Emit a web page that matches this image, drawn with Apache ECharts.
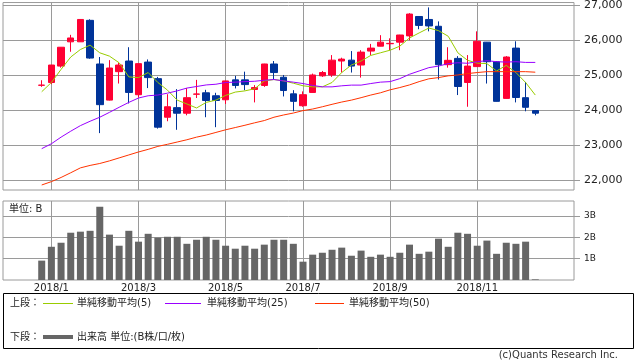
<!DOCTYPE html>
<html><head><meta charset="utf-8">
<script src="https://cdn.jsdelivr.net/npm/echarts@6/dist/echarts.min.js"></script>
<style>html,body{margin:0;padding:0;background:#fff}#c{width:638px;height:362px}</style>
</head><body><div id="c"></div>
<script>
// weekly categories (Monday of each week)
const weeks = ['2017/11/27','2017/12/4','2017/12/11','2017/12/18','2017/12/25',
 '2018/1/1','2018/1/8','2018/1/15','2018/1/22','2018/1/29','2018/2/5','2018/2/12','2018/2/19','2018/2/26',
 '2018/3/5','2018/3/12','2018/3/19','2018/3/26','2018/4/2','2018/4/9','2018/4/16','2018/4/23','2018/4/30',
 '2018/5/7','2018/5/14','2018/5/21','2018/5/28','2018/6/4','2018/6/11','2018/6/18','2018/6/25',
 '2018/7/2','2018/7/9','2018/7/16','2018/7/23','2018/7/30','2018/8/6','2018/8/13','2018/8/20','2018/8/27',
 '2018/9/3','2018/9/10','2018/9/17','2018/9/24','2018/10/1','2018/10/8','2018/10/15','2018/10/22','2018/10/29',
 '2018/11/5','2018/11/12','2018/11/19','2018/11/26','2018/12/3','2018/12/10','2018/12/17','2018/12/24','2018/12/31',
 '2019/1/7','2019/1/14'];
const firstWeek = '2017/12/25';
const tickWeeks = ['2018/1/1','2018/3/5','2018/5/7','2018/7/2','2018/9/3','2018/11/5'];
const tickLabels = ['2018/1','2018/3','2018/5','2018/7','2018/9','2018/11'];
const priceTicks = [22000,23000,24000,25000,26000,27000];
const volTicks = [1,2,3];

const opens  = [24715,24795,25265,25960,25960,26575,25325,24290,25105,25410,24445,25380,24905,23800,24075,23915,24460,24500,24415,24300,24870,24870,24595,24710,25325,24945,24470,24130,24510,24985,25010,25410,25435,25295,25695,25835,25905,25950,26130,26685,26600,26405,25305,25485,24795,25250,25950,25390,24340,25780,24360,23990];
const closes = [24720,25295,25805,26070,26600,25495,24160,25210,25295,24510,25335,24935,23515,24100,23915,24360,24465,24280,24280,24840,24710,24735,24650,25325,25080,24565,24255,24445,25010,25080,25435,25465,25265,25665,25780,25950,25915,26155,26755,26430,26415,25305,25430,24680,25265,25975,25390,24255,25525,24365,24085,23915];
const lows   = [24670,24745,25220,25675,25955,25475,23345,24280,24765,24195,24365,24635,23475,23685,23440,23855,24350,23800,23515,24180,24625,24575,24225,24670,24890,24395,23970,24100,24505,24955,24955,25080,25080,24935,25580,25830,25720,25720,26005,26320,26260,24880,25220,24435,24100,25245,24765,24250,24335,24225,23970,23855];
const highs  = [24860,25300,25810,26160,26610,26605,25525,25435,25360,25805,25340,25455,24955,24460,24605,24635,24870,24585,24500,24845,24985,25105,24720,25330,25410,25010,24575,24540,25050,25125,25580,25505,25695,25720,25900,26150,26060,26160,26780,26690,26945,26545,25805,25550,25580,26260,25955,25400,25550,25975,24810,23995];
const ma5  = [24530,24795,25170,25525,25740,25865,25645,25550,25360,24955,24935,25080,24795,24575,24290,24180,24065,24225,24290,24425,24520,24555,24615,24840,24880,24840,24775,24700,24670,24670,24795,25080,25295,25410,25570,25645,25720,25835,26070,26215,26355,26280,26120,25645,25430,25350,25335,25125,25285,25080,24795,24435];
const ma25 = [22900,23040,23230,23400,23560,23685,23800,23940,24085,24225,24350,24415,24435,24490,24555,24635,24680,24725,24745,24795,24805,24820,24830,24860,24880,24840,24805,24765,24710,24670,24670,24700,24720,24720,24765,24805,24820,24905,25030,25125,25220,25265,25335,25360,25345,25390,25420,25390,25380,25390,25370,25370];
const ma50 = [21860,21955,22075,22210,22350,22420,22475,22550,22635,22720,22805,22880,22965,23025,23090,23155,23230,23290,23365,23440,23505,23570,23640,23705,23800,23865,23920,23990,24035,24100,24170,24235,24290,24360,24435,24500,24585,24650,24725,24820,24900,24935,24985,25010,25050,25080,25105,25105,25105,25105,25105,25090];
const volume = [0.91,1.56,1.75,2.22,2.27,2.31,3.44,2.13,1.61,2.31,1.80,2.17,1.99,2.03,2.03,1.70,1.89,2.03,1.89,1.61,1.47,1.61,1.47,1.66,1.89,1.89,1.70,0.86,1.19,1.28,1.42,1.52,1.14,1.38,1.09,1.19,1.09,1.28,1.66,1.23,1.33,1.94,1.56,2.22,2.17,1.61,1.85,1.23,1.75,1.70,1.80,0.03];

const pad = Array(weeks.indexOf(firstWeek)).fill('-');
const candleData = pad.concat(opens.map((o, i) => [o, closes[i], lows[i], highs[i]]));
const FONT = '"DejaVu Sans","Noto Sans CJK JP",sans-serif';
const GRID_C = '#9a9a9a';
const showTick = (idx, val) => tickWeeks.indexOf(val !== undefined ? val : weeks[idx]) >= 0 || tickWeeks.indexOf(weeks[idx]) >= 0;

const xBase = (gi, labels) => ({
  type: 'category', gridIndex: gi, data: weeks, boundaryGap: false,
  axisLine: {show: false}, axisTick: {show: false, interval: (i) => tickWeeks.indexOf(weeks[i]) >= 0},
  splitLine: {show: true, interval: (i) => tickWeeks.indexOf(weeks[i]) >= 0, lineStyle: {color: GRID_C, width: 1}},
  axisLabel: labels ? {
    show: true, interval: (i) => tickWeeks.indexOf(weeks[i]) >= 0, margin: 3,
    formatter: (v) => tickLabels[tickWeeks.indexOf(v)] || '', color: '#222', fontSize: 10, fontFamily: FONT
  } : {show: false}
});

const chart = echarts.init(document.getElementById('c'), null, {renderer: 'canvas'});
chart.setOption({
  animation: false,
  backgroundColor: '#fff',
  grid: [
    {left: 3, right: 64, top: 1, height: 189, show: true, borderColor: GRID_C, borderWidth: 1, backgroundColor: 'transparent'},
    {left: 3, right: 64, top: 201, height: 79, show: true, borderColor: GRID_C, borderWidth: 1, backgroundColor: 'transparent'}
  ],
  xAxis: [xBase(0, false), xBase(1, true)],
  yAxis: [
    {type: 'value', gridIndex: 0, position: 'right', min: 21716, max: 27085, scale: true,
     axisLine: {show: false},
     axisTick: {show: true, customValues: priceTicks, length: 6, lineStyle: {color: GRID_C}},
     splitLine: {show: true, lineStyle: {color: GRID_C, width: 1}},
     axisLabel: {customValues: priceTicks, margin: 10, color: '#222', fontSize: 11, fontFamily: FONT,
       formatter: (v) => Number(v).toLocaleString('en-US')}},
    {type: 'value', gridIndex: 1, position: 'right', min: 0, max: 3.71,
     axisLine: {show: false},
     axisTick: {show: true, customValues: volTicks, length: 6, lineStyle: {color: GRID_C}},
     splitLine: {show: true, lineStyle: {color: GRID_C, width: 1}},
     axisLabel: {customValues: volTicks, margin: 10, color: '#222', fontSize: 9, fontFamily: FONT,
       formatter: (v) => v + 'B'}}
  ],
  series: [
    {name: '株価', type: 'candlestick', xAxisIndex: 0, yAxisIndex: 0, barWidth: 7, data: candleData,
     itemStyle: {color: '#ff0033', color0: '#003399', borderColor: '#ff0033', borderColor0: '#003399', borderWidth: 1}},
    {name: '単純移動平均(5)', type: 'line', xAxisIndex: 0, yAxisIndex: 0, data: pad.concat(ma5), showSymbol: false,
     lineStyle: {color: '#99cc00', width: 1}, itemStyle: {color: '#99cc00'}, z: 3},
    {name: '単純移動平均(25)', type: 'line', xAxisIndex: 0, yAxisIndex: 0, data: pad.concat(ma25), showSymbol: false,
     lineStyle: {color: '#9900ff', width: 1}, itemStyle: {color: '#9900ff'}, z: 3},
    {name: '単純移動平均(50)', type: 'line', xAxisIndex: 0, yAxisIndex: 0, data: pad.concat(ma50), showSymbol: false,
     lineStyle: {color: '#ff3300', width: 1}, itemStyle: {color: '#ff3300'}, z: 3},
    {name: '出来高', type: 'bar', xAxisIndex: 1, yAxisIndex: 1, barWidth: 7, data: pad.concat(volume),
     itemStyle: {color: '#666666'}}
  ],
  graphic: [
    {type: 'text', left: 9, top: 204, style: {text: '単位: B', fontSize: 10, fontFamily: FONT, fill: '#222'}},
    {type: 'rect', shape: {x: 3.5, y: 293.5, width: 630, height: 55}, style: {fill: 'none', stroke: '#000', lineWidth: 1}},
    {type: 'text', x: 10, y: 303, style: {text: '上段：', fontSize: 10, fontFamily: FONT, fill: '#222', verticalAlign: 'middle'}},
    {type: 'line', shape: {x1: 43, y1: 303.5, x2: 73, y2: 303.5}, style: {stroke: '#99cc00', lineWidth: 1}},
    {type: 'text', x: 77, y: 303, style: {text: '単純移動平均(5)', fontSize: 10, fontFamily: FONT, fill: '#222', verticalAlign: 'middle'}},
    {type: 'line', shape: {x1: 165, y1: 303.5, x2: 201, y2: 303.5}, style: {stroke: '#9900ff', lineWidth: 1}},
    {type: 'text', x: 207, y: 303, style: {text: '単純移動平均(25)', fontSize: 10, fontFamily: FONT, fill: '#222', verticalAlign: 'middle'}},
    {type: 'line', shape: {x1: 315, y1: 303.5, x2: 344, y2: 303.5}, style: {stroke: '#ff3300', lineWidth: 1}},
    {type: 'text', x: 349, y: 303, style: {text: '単純移動平均(50)', fontSize: 10, fontFamily: FONT, fill: '#222', verticalAlign: 'middle'}},
    {type: 'text', x: 10, y: 337, style: {text: '下段：', fontSize: 10, fontFamily: FONT, fill: '#222', verticalAlign: 'middle'}},
    {type: 'line', shape: {x1: 43, y1: 337, x2: 73, y2: 337}, style: {stroke: '#666666', lineWidth: 4}},
    {type: 'text', x: 77, y: 337, style: {text: '出来高 単位:(B株/口/枚)', fontSize: 10, fontFamily: FONT, fill: '#222', verticalAlign: 'middle'}},
    {type: 'text', right: 20, top: 350, style: {text: '(c)Quants Research Inc.', fontSize: 10, fontFamily: FONT, fill: '#333'}}
  ]
});
</script></body></html>
